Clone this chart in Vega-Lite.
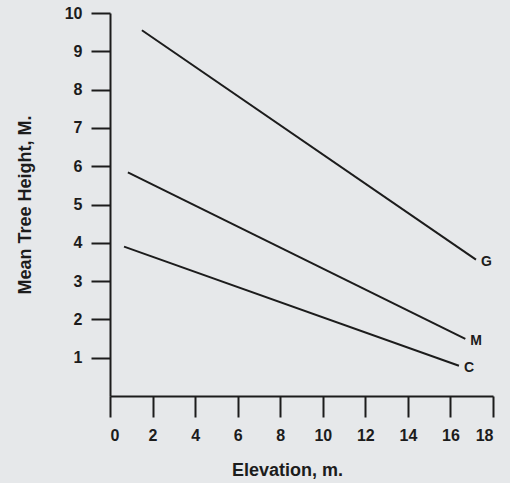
{
  "$schema": "https://vega.github.io/schema/vega-lite/v6.json",
  "width": 383,
  "height": 383,
  "autosize": {"type": "none"},
  "padding": {"left": 110, "top": 13, "right": 17, "bottom": 87},
  "background": "#e6e8ea",
  "config": {
    "view": {"stroke": null},
    "font": "Liberation Sans"
  },
  "data": {
    "values": [
      {"series": "G", "x": 1.5, "y": 9.55, "label": null},
      {"series": "G", "x": 17.2, "y": 3.56, "label": "G"},
      {"series": "M", "x": 0.84, "y": 5.84, "label": null},
      {"series": "M", "x": 16.7, "y": 1.49, "label": "M"},
      {"series": "C", "x": 0.66, "y": 3.9, "label": null},
      {"series": "C", "x": 16.4, "y": 0.79, "label": "C"}
    ]
  },
  "encoding": {
    "x": {
      "field": "x", "type": "quantitative",
      "scale": {"domain": [0, 18], "nice": false, "zero": false},
      "axis": {
        "values": [0, 2, 4, 6, 8, 10, 12, 14, 16, 18],
        "grid": false,
        "title": "Elevation,  m.",
        "titleFont": "Liberation Sans",
        "titleFontSize": 18,
        "titleFontWeight": "bold",
        "titleColor": "#1c1c1c",
        "titlePadding": 18,
        "titleX": 177,
        "labelFont": "Liberation Sans",
        "labelFontSize": 16,
        "labelFontWeight": "bold",
        "labelColor": "#1c1c1c",
        "labelPadding": 10,
        "tickSize": 21,
        "tickWidth": 2,
        "tickColor": "#1c1c1c",
        "domainWidth": 2,
        "domainColor": "#1c1c1c",
        "labelOverlap": false
      }
    },
    "y": {
      "field": "y", "type": "quantitative",
      "scale": {"domain": [0, 10], "nice": false, "zero": false},
      "axis": {
        "values": [1, 2, 3, 4, 5, 6, 7, 8, 9, 10],
        "grid": false,
        "title": "Mean Tree Height, M.",
        "titleFont": "Liberation Sans",
        "titleFontSize": 18,
        "titleFontWeight": "bold",
        "titleColor": "#1c1c1c",
        "titlePadding": 30,
        "labelFont": "Liberation Sans",
        "labelFontSize": 16,
        "labelFontWeight": "bold",
        "labelColor": "#1c1c1c",
        "labelPadding": 9,
        "tickSize": 19,
        "tickWidth": 2,
        "tickColor": "#1c1c1c",
        "domainWidth": 2,
        "domainColor": "#1c1c1c",
        "labelOverlap": false
      }
    }
  },
  "layer": [
    {
      "mark": {"type": "line", "color": "#1c1c1c", "strokeWidth": 2},
      "encoding": {"detail": {"field": "series"}}
    },
    {
      "transform": [{"filter": "datum.label != null"}],
      "mark": {"type": "text", "align": "left", "baseline": "middle", "dx": 5, "dy": 2, "fontSize": 14, "fontWeight": "bold", "color": "#1c1c1c"},
      "encoding": {"text": {"field": "label"}}
    }
  ]
}
